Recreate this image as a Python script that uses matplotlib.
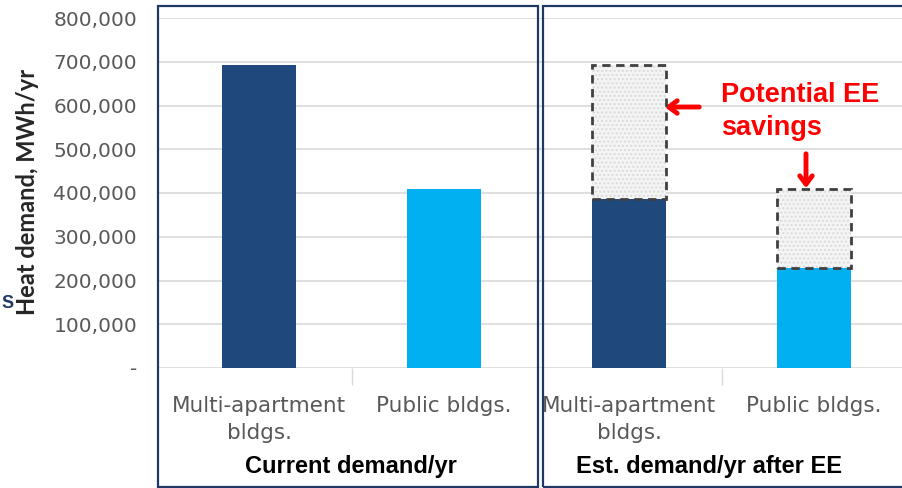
import matplotlib
matplotlib.use("Agg")
import matplotlib.pyplot as plt
from matplotlib.patches import Rectangle
from matplotlib.ticker import FuncFormatter

# ---- data ----
categories = ["Multi-apartment\nbldgs.", "Public bldgs.", "Multi-apartment\nbldgs.", "Public bldgs."]
current = [693000, 409000]
after_ee = [387000, 228000]
group_titles = ["Current demand/yr", "Est. demand/yr after EE"]
y_ticks = [0, 100000, 200000, 300000, 400000, 500000, 600000, 700000, 800000]
y_label = "Heat demand, MWh/yr"
note = "Potential EE\nsavings"

DARK = "#1F497D"
LIGHT = "#00B0F0"
NAVY = "#1F3864"
W, H = 902, 488

fig = plt.figure(figsize=(W / 100, H / 100), dpi=100)
fig.patch.set_facecolor("white")

def fx(px):
    return px / W

def fy(py):
    return (H - py) / H

ax = fig.add_axes([fx(158), fy(368), fx(744), (368 - 18) / H])
ax.set_facecolor("white")
xmin = -0.546
ax.set_xlim(xmin, xmin + 744 / 185)
ax.set_ylim(0, 800000)

bw = 0.4
colors = [DARK, LIGHT]
# current bars
ax.bar([0, 1], current, width=bw, color=colors, zorder=3)
# after-EE bars
ax.bar([2, 3], after_ee, width=bw, color=colors, zorder=3)
# savings (dotted fill + dashed edge)
savings = [c - a for c, a in zip(current, after_ee)]
ax.bar([2, 3], savings, bottom=after_ee, width=bw, color="#F4F4F4",
       edgecolor="#DADADA", hatch="....", linewidth=0, zorder=3)
ax.bar([2, 3], savings, bottom=after_ee, width=bw, fill=False,
       edgecolor="#404040", linestyle=(0, (3, 2)), linewidth=2, zorder=4)

ax.set_yticks(y_ticks)
ax.yaxis.set_major_formatter(FuncFormatter(lambda v, p: "-" if v == 0 else f"{int(v):,}"))
ax.yaxis.grid(True, color="#D9D9D9", linewidth=1.2, zorder=0)
ax.set_axisbelow(True)
ax.tick_params(axis="y", length=0, pad=15, labelsize=14.5, labelcolor="#595959")
for s in ax.spines.values():
    s.set_visible(False)

ax.set_xticks([0, 1, 2, 3])
ax.set_xticklabels(categories, fontsize=15.5, color="#595959", linespacing=1.42)
ax.tick_params(axis="x", length=0, pad=20.5)
ax.set_xticks([0.5, 2.5], minor=True)
ax.tick_params(axis="x", which="minor", length=12, color="#D9D9D9", width=1)

fig.text(fx(28), fy(192), y_label, rotation=90, ha="center", va="center",
         fontsize=17, fontweight="bold", family="Lato", color="#262626")

# group frames
fig.add_artist(Rectangle((fx(158), fy(487)), fx(538 - 158), (487 - 6) / H,
                         transform=fig.transFigure, fill=False, edgecolor=NAVY, linewidth=1.6))
fig.add_artist(Rectangle((fx(543), fy(487)), fx(920 - 543), (487 - 6) / H,
                         transform=fig.transFigure, fill=False, edgecolor=NAVY, linewidth=1.6))

# group titles
fig.text(fx(351), fy(466), group_titles[0], ha="center", va="center",
         fontsize=17, fontweight="bold", family="Liberation Sans", color="black")
fig.text(fx(709), fy(466), group_titles[1], ha="center", va="center",
         fontsize=17, fontweight="bold", family="Liberation Sans", color="black")

# annotation
fig.text(fx(721), fy(82), note, ha="left", va="top", fontsize=19.5, fontweight="bold",
         family="Liberation Sans", color="#FF0000", linespacing=1.36)
ax.annotate("", xy=(662, H - 107), xycoords="figure pixels",
            xytext=(702, H - 107), textcoords="figure pixels",
            arrowprops=dict(arrowstyle="->,head_length=0.6,head_width=0.45", color="#FF0000", lw=3.5))
ax.annotate("", xy=(806, H - 191), xycoords="figure pixels",
            xytext=(806, H - 151), textcoords="figure pixels",
            arrowprops=dict(arrowstyle="->,head_length=0.6,head_width=0.45", color="#FF0000", lw=3.5))

# stray slide character at left edge
fig.text(fx(1), fy(304), "S", ha="left", va="center", fontsize=13, fontweight="bold",
         color=NAVY, family="Liberation Sans")

fig.savefig("out.png", dpi=100, facecolor="white")
